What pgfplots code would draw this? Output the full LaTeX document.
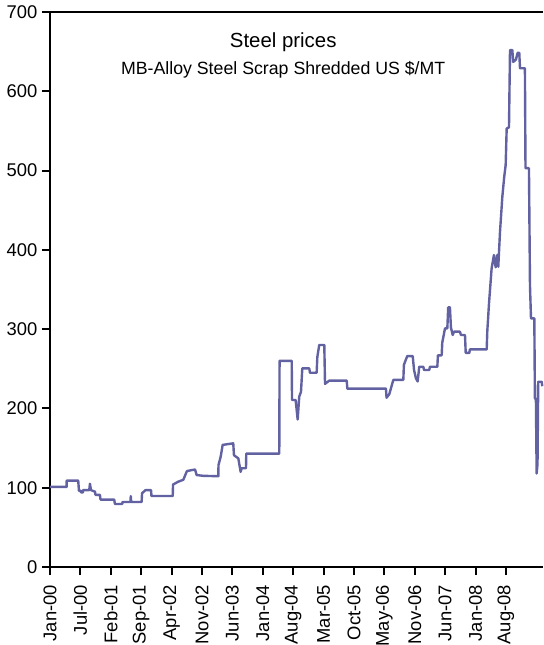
\documentclass[border=0pt]{standalone}
\usepackage{pgfplots}
\pgfplotsset{compat=1.18}
\usepackage{fontspec}
\setmainfont{Liberation Sans}
\definecolor{steel}{RGB}{98,98,162}
\begin{document}
\begin{tikzpicture}
\begin{axis}[
  scale only axis, width=369.75pt, height=416.25pt,
  xmin=0, xmax=3406, ymin=0, ymax=700,
  axis x line=box, axis y line=left,
  axis line style={-, line width=2pt, black},
  xtick={0,210,...,3150},
  xticklabels={Jan-00,Jul-00,Feb-01,Sep-01,Apr-02,Nov-02,Jun-03,Jan-04,Aug-04,Mar-05,Oct-05,May-06,Nov-06,Jun-07,Jan-08,Aug-08},
  xtick pos=left, ytick pos=left,
  ytick={0,100,...,700},
  tick align=outside,
  major tick length=6pt,
  tick style={line width=1.5pt, black},
  xticklabel style={rotate=90, anchor=east, xshift=-4pt},
  ticklabel style={font=\fontsize{13.8}{16}\selectfont},
  /pgf/number format/assume math mode=true,
  clip=false,
]
\addplot[steel, line width=1.8pt, line join=round] coordinates {
(0,101) (115,101) (115,109) (195,109) (200,96) (214,96) (214,94) (228,94) (228,97)
(271,97) (276,105) (283,97) (311,95) (314,91) (345,91) (349,85) (444,85) (448,79.5)
(499,79.5) (501,82) (556,82) (558,89.5) (561,82) (633,82) (636,93) (660,97) (698,97)
(701,89.5) (848,89.5) (850,104) (886,107.6) (921,110) (946,121) (1002,123) (1013,116)
(1059,115) (1163,114.5) (1164,128.6) (1179,139) (1193,154) (1266,156) (1271,141)
(1301,137) (1317,120) (1324,124.5) (1354,124.5) (1356,143) (1584,143) (1586,260)
(1670,260) (1672,210.6) (1697,210.6) (1711,186) (1722,215) (1734,221) (1743,250.5)
(1791,250.5) (1796,245) (1842,245) (1847,265) (1860,280) (1895,280) (1900,231)
(1929,235) (2050,235) (2054,225) (2321,225) (2325,213.5) (2344,218) (2372,236)
(2441,236) (2445,255) (2468,266) (2506,266) (2515,248.5) (2528,238) (2540,234)
(2551,252.6) (2579,252.6) (2584,248.5) (2620,248.5) (2625,252.6) (2676,252.6)
(2680,267) (2706,267) (2710,283) (2729,301) (2745,301) (2751,327.5) (2763,327.5)
(2770,302) (2782,292.6) (2791,296.8) (2832,296.8) (2839,292.6) (2867,292.6)
(2872,270) (2897,270) (2901,274.5) (3017,274.5) (3021,297) (3033,332.6) (3051,376.7)
(3067,393.5) (3079,378) (3090,393.5) (3097,378.7) (3109,423) (3125,467) (3138,492)
(3148,507) (3155,553) (3171,554.6) (3178,652) (3194,652) (3200,637) (3219,640)
(3231,648.6) (3242,648.6) (3247,629) (3281,629) (3285,503) (3309,503) (3316,355)
(3323,313.6) (3346,313.6) (3350,212.7) (3357,212) (3362,118) (3368,130) (3373,233.7)
(3397,233.7) (3401,228)
};
\node[font=\fontsize{15.3}{18}\selectfont] at (rel axis cs:0.473,0.946) {Steel prices};
\node[font=\fontsize{13.3}{16}\selectfont] at (rel axis cs:0.473,0.895) {MB-Alloy Steel Scrap Shredded US \$/MT};
\coordinate (bl) at (rel axis cs:0,0);
\coordinate (tr) at (rel axis cs:1,1);
\end{axis}
\pgfresetboundingbox
\path ([xshift=-37.5pt,yshift=-58.5pt]bl) rectangle ([yshift=9pt]tr);
\end{tikzpicture}
\end{document}
